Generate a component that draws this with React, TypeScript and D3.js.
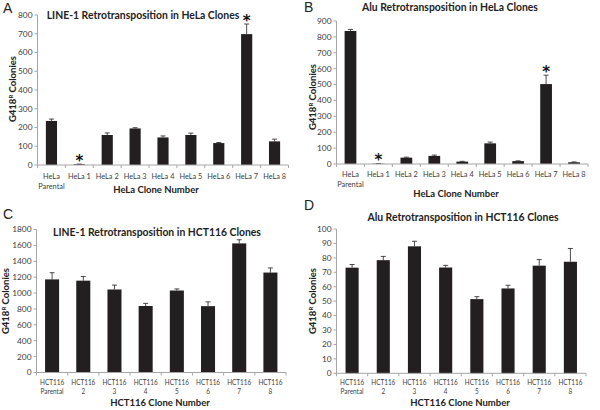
import React from "react";
import * as d3 from "d3";

// ---------- DATA ----------
const helaCategories = ["HeLa Parental", "HeLa 1", "HeLa 2", "HeLa 3", "HeLa 4", "HeLa 5", "HeLa 6", "HeLa 7", "HeLa 8"];
const helaTickLines = [["HeLa", "Parental"], ["HeLa 1"], ["HeLa 2"], ["HeLa 3"], ["HeLa 4"], ["HeLa 5"], ["HeLa 6"], ["HeLa 7"], ["HeLa 8"]];
const hctCategories = ["HCT116 Parental", "HCT116 2", "HCT116 3", "HCT116 4", "HCT116 5", "HCT116 6", "HCT116 7", "HCT116 8"];
const hctTickLines = [["HCT116", "Parental"], ["HCT116", "2"], ["HCT116", "3"], ["HCT116", "4"], ["HCT116", "5"], ["HCT116", "6"], ["HCT116", "7"], ["HCT116", "8"]];

const lineHelaValues = [235, 4, 160, 195, 147, 160, 117, 698, 126];
const lineHelaErrors = [10, 1, 11, 4, 8, 10, 3, 54, 12];
const lineHelaStars = ["HeLa 1", "HeLa 7"];

const aluHelaValues = [837, 2, 40, 51, 15, 130, 18, 503, 11];
const aluHelaErrors = [10, 1, 3, 5, 2, 8, 2, 56, 2];
const aluHelaStars = ["HeLa 1", "HeLa 7"];

const lineHctValues = [1172, 1156, 1045, 837, 1032, 835, 1625, 1258];
const lineHctErrors = [84, 52, 55, 33, 20, 54, 46, 58];

const aluHctValues = [73.2, 78.4, 88, 73.3, 51.4, 58.8, 74.6, 77.3];
const aluHctErrors = [2.2, 2.6, 3.5, 1.5, 1.7, 2.2, 4.2, 9.2];

const lineHelaTicks = d3.range(0, 801, 100);
const aluHelaTicks = d3.range(0, 901, 100);
const lineHctTicks = d3.range(0, 1801, 200);
const aluHctTicks = d3.range(0, 101, 10);

// ---------- COMPONENT ----------
const FONT = "Lato, 'Open Sans', sans-serif";
const AXIS_COLOR = "#a6a6a6";
const LABEL_COLOR = "#404040";

type PanelProps = {
  letter: string;
  letterPos: [number, number];
  title: string;
  titlePos: [number, number];
  categories: string[];
  tickLines: string[][];
  values: number[];
  errors: number[];
  stars?: string[];
  yTicks: number[];
  x0: number;
  x1: number;
  yTop: number;
  yBottom: number;
  padding: number;
  xTitle: string;
  xTitlePos: [number, number];
  yTitlePos: [number, number];
  tickRow1: number;
  tickRowGap: number;
  labelScale: number;
};

function Panel(p: PanelProps) {
  const x = d3
    .scaleBand<string>()
    .domain(p.categories)
    .range([p.x0, p.x1])
    .paddingInner(p.padding)
    .paddingOuter(p.padding / 2);
  const yMax = p.yTicks[p.yTicks.length - 1];
  const y = d3.scaleLinear().domain([0, yMax]).range([p.yBottom, p.yTop]);
  const step = x.step();
  const bw = x.bandwidth();
  const boundaries = d3.range(p.categories.length + 1).map((i) => p.x0 + i * step);

  return (
    <g>
      <text x={p.letterPos[0]} y={p.letterPos[1]} fontFamily="'Liberation Sans', Arial, sans-serif" fontSize={14} fill="#222">
        {p.letter}
      </text>
      <text x={p.titlePos[0]} y={p.titlePos[1]} textAnchor="middle" fontFamily={FONT} fontWeight="bold" fontSize={10.4} fill="#222">
        {p.title}
      </text>
      {/* y axis */}
      <line x1={p.x0} x2={p.x0} y1={p.yTop} y2={p.yBottom} stroke={AXIS_COLOR} strokeWidth={1} />
      {p.yTicks.map((t) => (
        <g key={"yt" + t}>
          <line x1={p.x0 - 3} x2={p.x0} y1={y(t)} y2={y(t)} stroke={AXIS_COLOR} />
          <text x={p.x0 - 5} y={y(t)} dy="0.35em" textAnchor="end" fontFamily={FONT} fontSize={8.3} fill={LABEL_COLOR}>
            {t}
          </text>
        </g>
      ))}
      {/* bars */}
      {p.categories.map((c, i) => {
        const v = p.values[i];
        const e = p.errors[i];
        const cx = (x(c) as number) + bw / 2;
        return (
          <g key={"b" + c}>
            <rect x={x(c)} y={y(v)} width={bw} height={p.yBottom - y(v)} fill="#231f20" />
            <line x1={cx} x2={cx} y1={y(v)} y2={y(v + e)} stroke="#231f20" strokeWidth={0.8} />
            <line x1={cx - 2.5} x2={cx + 2.5} y1={y(v + e)} y2={y(v + e)} stroke="#231f20" strokeWidth={0.8} />
          </g>
        );
      })}
      {/* stars */}
      {(p.stars || []).map((s) => {
        const i = p.categories.indexOf(s);
        const cx = (x(s) as number) + bw / 2;
        const top = y(p.values[i] + p.errors[i]);
        return (
          <text key={"s" + s} x={cx} y={top + 1.5} textAnchor="middle" fontFamily="'DejaVu Sans', sans-serif" fontWeight="bold" fontSize={15} fill="#111">
            *
          </text>
        );
      })}
      {/* x axis */}
      <line x1={p.x0} x2={p.x1} y1={p.yBottom} y2={p.yBottom} stroke={AXIS_COLOR} />
      {boundaries.map((bx, i) => (
        <line key={"xt" + i} x1={bx} x2={bx} y1={p.yBottom} y2={p.yBottom + 3} stroke={AXIS_COLOR} />
      ))}
      {p.categories.map((c, i) => {
        const cx = (x(c) as number) + bw / 2;
        return (
          <g key={"xl" + c} transform={`translate(${cx},${p.tickRow1}) scale(${p.labelScale},1)`}>
            <text x={0} y={0} textAnchor="middle" fontFamily={FONT} fontSize={8} fill={LABEL_COLOR}>
              {p.tickLines[i].map((ln, j) => (
                <tspan key={j} x={0} y={j * p.tickRowGap}>
                  {ln}
                </tspan>
              ))}
            </text>
          </g>
        );
      })}
      <text x={p.xTitlePos[0]} y={p.xTitlePos[1]} textAnchor="middle" fontFamily={FONT} fontWeight="bold" fontSize={9.5} fill="#222">
        {p.xTitle}
      </text>
      <text
        transform={`translate(${p.yTitlePos[0]},${p.yTitlePos[1]}) rotate(-90)`}
        textAnchor="middle"
        fontFamily={FONT}
        fontWeight="bold"
        fontSize={9.5}
        fill="#222"
      >
        <tspan>G418</tspan>
        <tspan fontSize={6} dy={-3.5}>R</tspan>
        <tspan dy={3.5}> Colonies</tspan>
      </text>
    </g>
  );
}

export default function App() {
  return (
    <svg width={600} height={410} style={{ position: "absolute", left: 0, top: 0, background: "#fff" }}>
      <rect width={600} height={410} fill="#fff" />
      <Panel
        letter="A"
        letterPos={[3, 13]}
        title="LINE-1 Retrotransposition in HeLa Clones"
        titlePos={[143, 19]}
        categories={helaCategories}
        tickLines={helaTickLines}
        values={lineHelaValues}
        errors={lineHelaErrors}
        stars={lineHelaStars}
        yTicks={lineHelaTicks}
        x0={37.5}
        x1={288.5}
        yTop={15}
        yBottom={165}
        padding={0.6}
        xTitle="HeLa Clone Number"
        xTitlePos={[156, 193]}
        yTitlePos={[16, 89]}
        tickRow1={178.5}
        tickRowGap={10.5}
        labelScale={0.92}
      />
      <Panel
        letter="B"
        letterPos={[304, 12]}
        title="Alu Retrotransposition in HeLa Clones"
        titlePos={[450, 11]}
        categories={helaCategories}
        tickLines={helaTickLines}
        values={aluHelaValues}
        errors={aluHelaErrors}
        stars={aluHelaStars}
        yTicks={aluHelaTicks}
        x0={336.5}
        x1={588}
        yTop={21}
        yBottom={164}
        padding={0.58}
        xTitle="HeLa Clone Number"
        xTitlePos={[456, 197]}
        yTitlePos={[316, 97]}
        tickRow1={177}
        tickRowGap={10.5}
        labelScale={0.92}
      />
      <Panel
        letter="C"
        letterPos={[3, 219]}
        title="LINE-1 Retrotransposition in HCT116 Clones"
        titlePos={[157, 236]}
        categories={hctCategories}
        tickLines={hctTickLines}
        values={lineHctValues}
        errors={lineHctErrors}
        stars={[]}
        yTicks={lineHctTicks}
        x0={36.5}
        x1={286}
        yTop={229.5}
        yBottom={372.5}
        padding={0.55}
        xTitle="HCT116 Clone Number"
        xTitlePos={[160, 406]}
        yTitlePos={[9, 301]}
        tickRow1={385}
        tickRowGap={9.5}
        labelScale={0.8}
      />
      <Panel
        letter="D"
        letterPos={[304, 210]}
        title="Alu Retrotransposition in HCT116 Clones"
        titlePos={[463, 221]}
        categories={hctCategories}
        tickLines={hctTickLines}
        values={aluHctValues}
        errors={aluHctErrors}
        stars={[]}
        yTicks={aluHctTicks}
        x0={336.5}
        x1={586}
        yTop={229}
        yBottom={373.3}
        padding={0.58}
        xTitle="HCT116 Clone Number"
        xTitlePos={[460, 406]}
        yTitlePos={[316, 301]}
        tickRow1={385}
        tickRowGap={9.5}
        labelScale={0.8}
      />
    </svg>
  );
}
